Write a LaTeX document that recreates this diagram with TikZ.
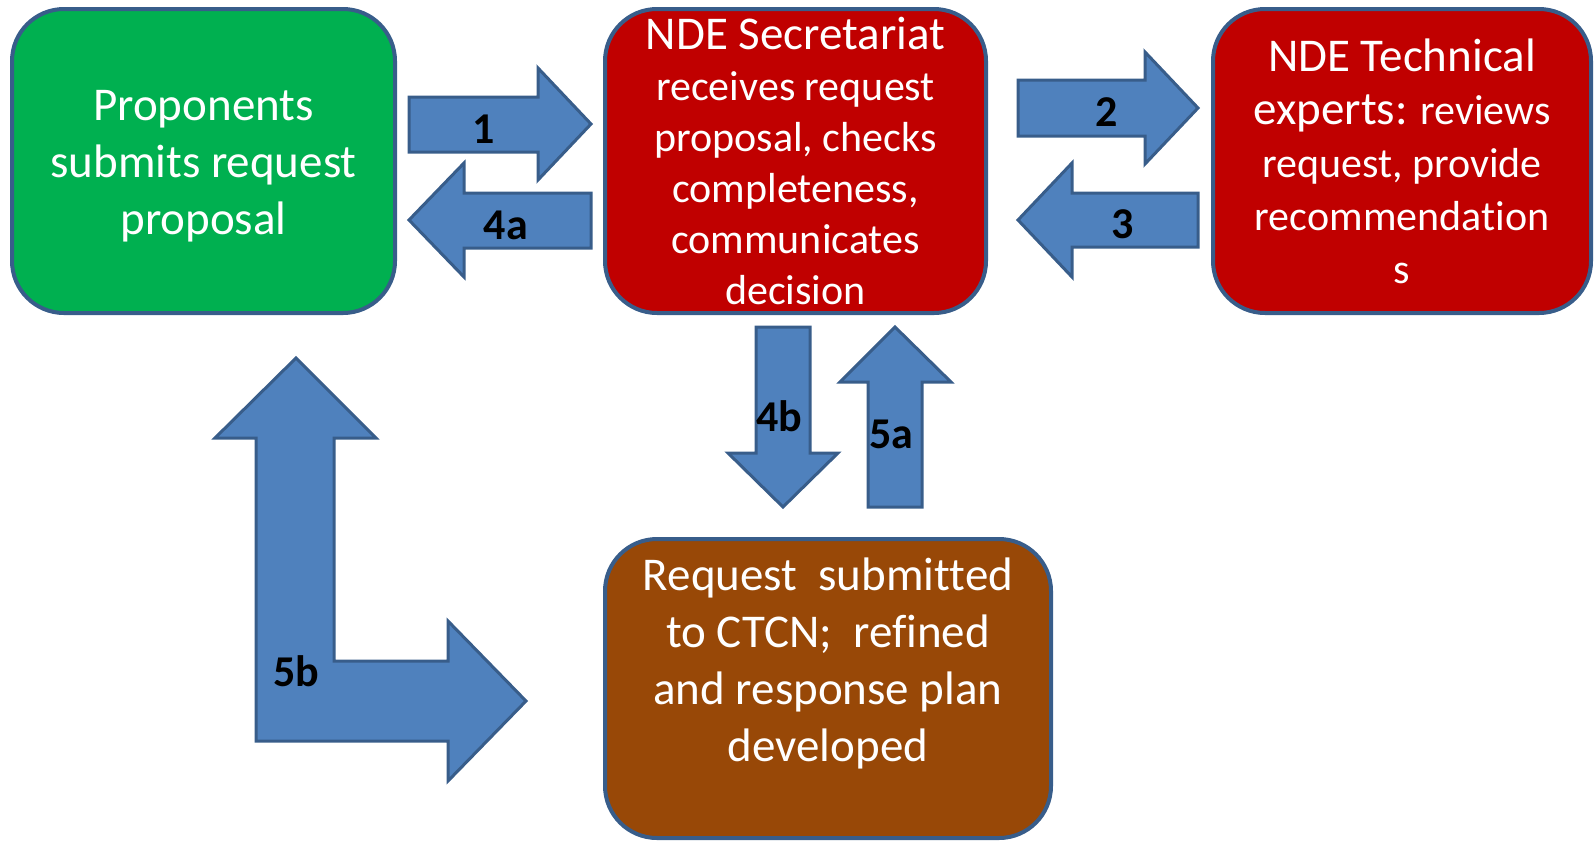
\documentclass[tikz,border=0pt]{standalone}
\usepackage{fontspec}
\setmainfont{Carlito}[Ligatures=CommonOff]
\definecolor{propgreen}{HTML}{00B050}
\definecolor{ndered}{HTML}{C00000}
\definecolor{ctcnbrown}{HTML}{984807}
\definecolor{arrowblue}{HTML}{4F81BD}
\definecolor{arrowline}{HTML}{385D8A}

\begin{document}
\begin{tikzpicture}[x=0.5pt,y=-0.5pt,
  box/.style={draw=arrowline,line width=2pt,rounded corners=26pt,inner sep=0pt,text=white,align=center},
  boxtxt/.style={font=\fontsize{23.5}{28.5}\selectfont,text=white,align=center,inner sep=0pt},
  smalltxt/.style={font=\fontsize{21}{25.5}\selectfont},
  blockarrow/.style={draw=arrowline,fill=arrowblue,line width=1.5pt,line join=miter},
  num/.style={font=\fontsize{22}{26}\selectfont\bfseries}]

\useasboundingbox (0,0) rectangle (1595,842);

%BOXES
% proponents
\node[box,fill=propgreen,minimum width=191.5pt,minimum height=152pt] (prop) at (203.5,161) {};
\node[boxtxt] (proptext) at (203.5,166) {Proponents\\submits request\\proposal};
% secretariat
\node[box,smalltxt,fill=ndered,minimum width=190.5pt,minimum height=152pt] (sec) at (795.5,161)
  {{\fontsize{23.5}{25.5}\selectfont NDE Secretariat}\\receives request\\proposal, checks\\completeness,\\communicates\\decision};
% technical experts
\node[box,fill=ndered,minimum width=189pt,minimum height=152pt,font=\fontsize{21}{26.5}\selectfont] (tech) at (1402,161)
  {{\fontsize{23.5}{26.5}\selectfont NDE Technical}\\{\fontsize{23.5}{26.5}\selectfont experts:} reviews\\request, provide\\recommendation\\s};
% ctcn
\node[box,fill=ctcnbrown,minimum width=223pt,minimum height=149.5pt] (ctcn) at (828,688.5) {};
\node[boxtxt] (ctcntext) at (828,663)
  {Request\ \ submitted\\to CTCN;\ \ refined\\and response plan\\developed};

%ARROWS
% 1 and 4a
\draw[blockarrow] (409,97) -- (538,97) -- (538,68) -- (591,124) -- (538,180) -- (538,152) -- (409,152) -- cycle;
\draw[blockarrow] (591,193) -- (464,193) -- (464,163) -- (409,220) -- (464,277) -- (464,248) -- (591,248) -- cycle;
% 2 and 3
\draw[blockarrow] (1018,80) -- (1145,80) -- (1145,52) -- (1198,108) -- (1145,164) -- (1145,136) -- (1018,136) -- cycle;
\draw[blockarrow] (1198,193) -- (1072,193) -- (1072,163) -- (1018,220) -- (1072,277) -- (1072,247) -- (1198,247) -- cycle;
% 4b and 5a
\draw[blockarrow] (756,327) -- (810,327) -- (810,453) -- (838,453) -- (783,507) -- (728,453) -- (756,453) -- cycle;
\draw[blockarrow] (868,507) -- (868,382) -- (840,382) -- (895,327) -- (951,382) -- (922,382) -- (922,507) -- cycle;
% 5b
\draw[blockarrow] (256,741) -- (256,438) -- (215,438) -- (296,358) -- (376,438) -- (334,438) -- (334,661)
  -- (448,661) -- (448,621) -- (526,701) -- (448,781) -- (448,741) -- cycle;

%LABELS
\node[num] (n1) at (484,129) {1};
\node[num] (n4a) at (506,225) {4a};
\node[num] (n2) at (1107,112) {2};
\node[num] (n3) at (1123,224) {3};
\node[num] (n4b) at (779,416) {4b};
\node[num] (n5a) at (891,434) {5a};
\node[num] (n5b) at (296,671) {5b};

\end{tikzpicture}
\end{document}
